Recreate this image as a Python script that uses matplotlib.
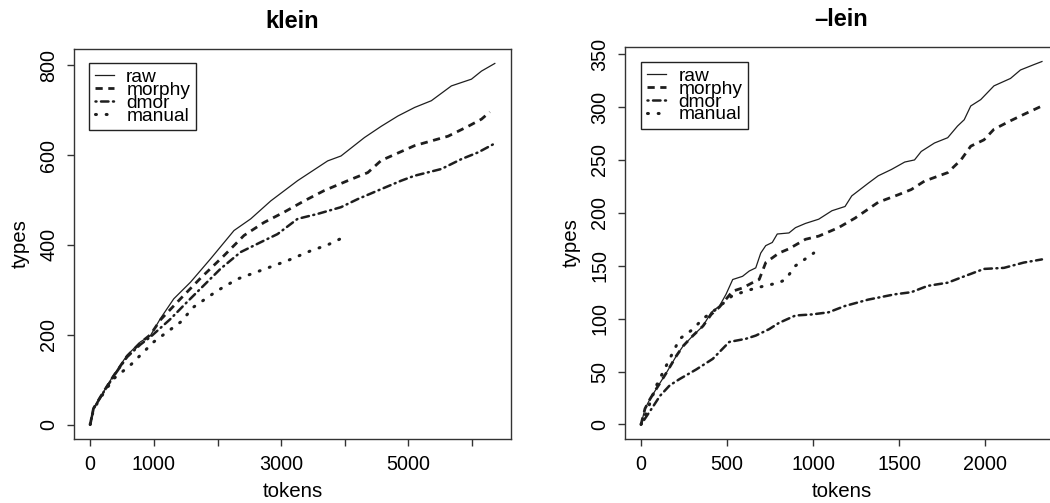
import matplotlib
matplotlib.use("Agg")
import matplotlib.pyplot as plt

plt.rcParams['font.family'] = ['Liberation Sans', 'DejaVu Sans']

# klein: tokens vs types
klein_raw_t = [0, 52, 210, 367, 578, 788, 946, 1103, 1313, 1576, 1891, 2259, 2522, 2837, 3258, 3730, 3940,
               4308, 4571, 4834, 5096, 5359, 5674, 5989, 6147, 6356]
klein_raw_v = [0, 36, 73, 110, 154, 184, 198, 236, 280, 317, 369, 432, 458, 498, 543, 587, 598,
               639, 664, 687, 706, 721, 754, 769, 787, 804]
klein_morphy_t = [0, 52, 210, 367, 578, 788, 946, 1103, 1418, 1734, 2101, 2416, 2731, 3047, 3362, 3677,
                  4046, 4361, 4571, 5096, 5622, 5937, 6147, 6278]
klein_morphy_v = [0, 36, 73, 108, 152, 182, 200, 233, 280, 326, 376, 421, 450, 473, 498, 521,
                  543, 561, 588, 621, 642, 664, 680, 696]
klein_dmor_t = [0, 52, 210, 367, 578, 788, 946, 1261, 1523, 1786, 2049, 2364, 2679, 2942, 3258, 3573, 3940,
                4203, 4518, 4886, 5096, 5516, 5831, 6094, 6331]
klein_dmor_v = [0, 35, 72, 107, 150, 178, 195, 235, 273, 310, 347, 384, 406, 424, 458, 469, 484,
                502, 521, 543, 554, 569, 591, 606, 624]
klein_manual_t = [0, 52, 210, 367, 630, 998, 1103, 1418, 1628, 1997, 2312, 2679, 3100, 3467, 3730, 3982]
klein_manual_v = [0, 34, 70, 102, 132, 184, 195, 228, 262, 298, 324, 343, 365, 387, 400, 417]

# -lein: tokens vs types
lein_raw_t = [0, 23, 52, 90, 148, 206, 244, 302, 360, 408, 456, 494, 533, 590, 629, 667, 696, 725, 763, 792,
              860, 898, 956, 1033, 1110, 1186, 1225, 1321, 1379, 1456, 1533, 1590, 1629, 1706, 1783, 1840,
              1879, 1917, 1975, 2052, 2148, 2206, 2283, 2331]
lein_raw_v = [0, 15, 24, 34, 49, 65, 74, 84, 93, 106, 112, 123, 137, 140, 145, 148, 162, 169, 172, 180,
              181, 186, 190, 194, 202, 206, 216, 228, 235, 241, 248, 250, 258, 266, 271, 282,
              288, 301, 307, 320, 327, 335, 340, 343]
lein_morphy_t = [0, 23, 52, 90, 148, 206, 244, 302, 360, 408, 456, 533, 590, 648, 687, 725, 802, 860, 956,
                 1033, 1148, 1244, 1379, 1494, 1571, 1648, 1783, 1860, 1917, 1994, 2052, 2148, 2225, 2331]
lein_morphy_v = [0, 15, 24, 34, 49, 65, 74, 84, 93, 104, 111, 126, 129, 134, 137, 153, 162, 166, 175,
                 178, 186, 195, 210, 217, 222, 230, 238, 250, 263, 269, 279, 287, 293, 301]
lein_dmor_t = [0, 62, 110, 167, 225, 321, 417, 513, 610, 667, 744, 802, 898, 994, 1090, 1186, 1321, 1475,
               1571, 1667, 1783, 1879, 1994, 2110, 2225, 2331]
lein_dmor_v = [0, 15, 27, 37, 43, 52, 62, 78, 81, 84, 90, 96, 103, 104, 106, 112, 118, 123,
               125, 131, 134, 140, 147, 148, 153, 156]
lein_manual_t = [0, 33, 90, 148, 225, 302, 360, 437, 533, 667, 802, 840, 898, 1004]
lein_manual_v = [0, 12, 37, 56, 81, 90, 100, 109, 122, 129, 134, 137, 150, 162]

labels = ['raw', 'morphy', 'dmor', 'manual']
col = '#1e1e1e'
styles = [dict(ls='-', lw=0.9),
          dict(ls=(0, (2.6, 2.0)), lw=2.0),
          dict(ls=(0, (0.4, 1.8, 3, 1.8)), lw=1.8, dash_capstyle='round'),
          dict(ls=(0, (0.3, 3.2)), lw=2.2, dash_capstyle='round')]

fig = plt.figure(figsize=(10.5, 5.03), dpi=100)
ax1 = fig.add_axes([74 / 1050, 64 / 503, 437 / 1050, 390 / 503])
ax2 = fig.add_axes([625 / 1050, 64 / 503, 433 / 1050, 392 / 503])

series1 = [(klein_raw_t, klein_raw_v), (klein_morphy_t, klein_morphy_v),
           (klein_dmor_t, klein_dmor_v), (klein_manual_t, klein_manual_v)]
series2 = [(lein_raw_t, lein_raw_v), (lein_morphy_t, lein_morphy_v),
           (lein_dmor_t, lein_dmor_v), (lein_manual_t, lein_manual_v)]

legend_pos = {'klein': (0.034, 0.964), '\u2013lein': (0.037, 0.9625)}

for ax, series, title in [(ax1, series1, 'klein'), (ax2, series2, '\u2013lein')]:
    for (t, v), lab, st in zip(series, labels, styles):
        ax.plot(t, v, color=col, label=lab, **st)
    ax.margins(x=0.04, y=0.04)
    for s in ax.spines.values():
        s.set_color('#333333')
        s.set_linewidth(1.0)
    ax.tick_params(direction='out', length=5.3, width=1, color='#333333', labelsize=14.2, pad=6)
    ax.set_title(title, fontsize=17, fontweight='bold', pad=15)
    ax.set_xlabel('tokens', fontsize=14.8, labelpad=6)
    ax.set_ylabel('types', fontsize=14.8, labelpad=7)
    leg = ax.legend(loc='upper left', bbox_to_anchor=legend_pos[title], fontsize=13.8, frameon=True,
                    fancybox=False, edgecolor='#222222', framealpha=1, borderpad=0.3,
                    labelspacing=-0.24, handlelength=1.0, handletextpad=0.65, borderaxespad=0)
    leg.get_frame().set_linewidth(1.0)

ax1.set_xticks([0, 1000, 2000, 3000, 4000, 5000, 6000])
ax1.set_xticklabels(['0', '1000', '', '3000', '', '5000', ''])
ax1.set_yticks([0, 200, 400, 600, 800])
ax2.set_xticks([0, 500, 1000, 1500, 2000])
ax2.set_yticks([0, 50, 100, 150, 200, 250, 300, 350])
for ax in (ax1, ax2):
    plt.setp(ax.get_yticklabels(), rotation=90, va='center')

fig.savefig('out.png', dpi=100)
